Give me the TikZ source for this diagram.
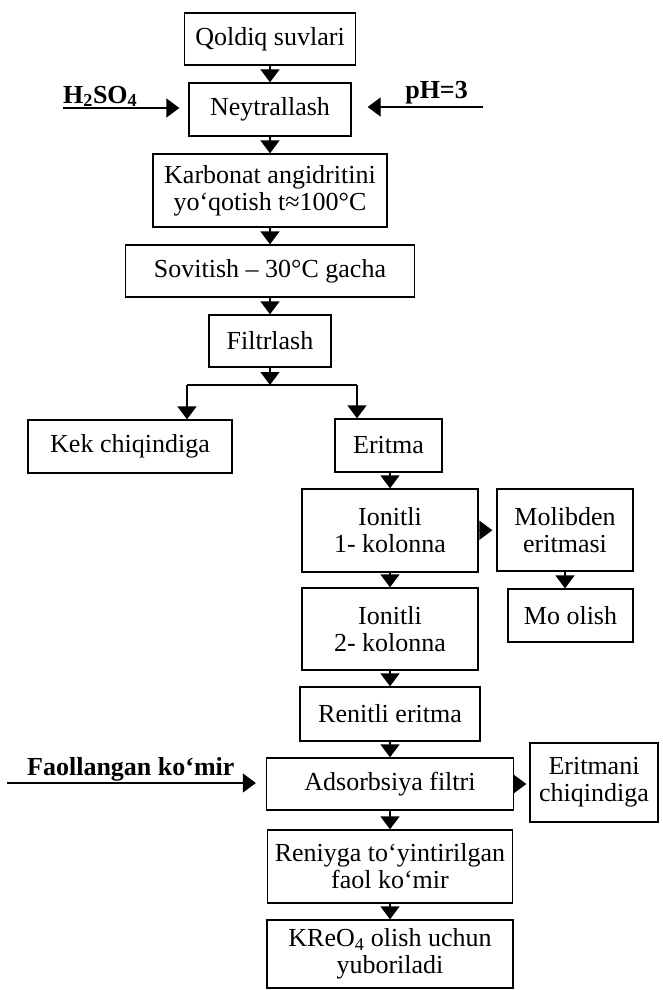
\documentclass[tikz,border=0pt]{standalone}
\usepackage{fontspec}
\setmainfont{Liberation Serif}
\usetikzlibrary{arrows.meta}

\begin{document}
\begin{tikzpicture}[
    x=1pt, y=-1pt,
    >={Triangle[length=13pt, width=19pt]},
    box/.style={rectangle, draw, line width=1.3pt, inner sep=2pt, align=center, font=\fontsize{26}{27}\selectfont},
    lbl/.style={inner sep=0pt, font=\fontsize{26}{27}\selectfont\bfseries},
    arr/.style={->, line width=1.3pt}
]
\useasboundingbox (0,0) rectangle (663,990);

% === Yuqori ustun ===
\node[box, minimum width=171pt, minimum height=52pt] (qold) at (270,39) {Qoldiq suvlari};
\node[box, minimum width=162pt, minimum height=53pt] (neyt) at (270,109.5) {Neytrallash};
\node[box, minimum width=234pt, minimum height=73pt] (karb) at (270,190.5) {Karbonat angidritini\\yo‘qotish t≈100°C};
\node[box, minimum width=289pt, minimum height=52pt] (sov) at (270,271) {Sovitish – 30°C gacha};
\node[box, minimum width=122pt, minimum height=52pt] (filtr) at (270,341) {Filtrlash};

% Asosiy oqim
\draw[arr] (qold) -- (neyt);
\draw[arr] (neyt) -- (karb);
\draw[arr] (karb) -- (sov);
\draw[arr] (sov) -- (filtr);

% === Reagentlar ===
\coordinate (h2in) at (63,108);
\coordinate (phin) at (483,107);
\node[lbl, anchor=base west] (h2so4) at (63,103) {H\textsubscript{2}SO\textsubscript{4}};
\node[lbl, anchor=base east] (ph) at (468,98) {pH=3};
\draw[arr, shorten >=9pt] (h2in) -- (h2in -| neyt.west);
\draw[arr, shorten >=16pt] (phin) -- (phin -| neyt.east);

% === Ajratish ===
\node[box, minimum width=204pt, minimum height=53pt] (kek) at (130,446.5) {Kek chiqindiga};
\node[box, minimum width=107pt, minimum height=53pt] (erit) at (388.5,445.5) {Eritma};

\coordinate (bl) at (187,385);
\coordinate (br) at (357,385);
\draw[arr] (filtr) -- (filtr |- bl);
\draw[line width=1.3pt] (bl) -- (br);
\draw[arr] (bl) -- (bl |- kek.north);
\draw[arr] (br) -- (br |- erit.north);

% === Ionitli kolonnalar ===
\node[box, minimum width=176pt, minimum height=83pt] (ion1) at (390,530.5) {Ionitli\\1- kolonna};
\node[box, minimum width=136pt, minimum height=82pt] (molib) at (565,530) {Molibden\\eritmasi};
\node[box, minimum width=125pt, minimum height=53pt] (mo) at (570.5,615.5) {Mo olish};
\node[box, minimum width=176pt, minimum height=82pt] (ion2) at (390,629) {Ionitli\\2- kolonna};
\node[box, minimum width=180pt, minimum height=54pt] (renit) at (390,714) {Renitli eritma};

\draw[arr] (erit.south -| ion1.north) -- (ion1);
\draw[arr, shorten >=4pt] (ion1) -- (molib);
\draw[arr] (molib.south) -- (molib.south |- mo.north);
\draw[arr] (ion1) -- (ion2);
\draw[arr] (ion2) -- (renit);

% === Adsorbsiya ===
\node[box, minimum width=247pt, minimum height=52pt] (adsor) at (390,784) {Adsorbsiya filtri};
\node[box, minimum width=128pt, minimum height=79pt] (eritm) at (594,782.5) {Eritmani\\chiqindiga};
\node[box, minimum width=245pt, minimum height=73pt] (reni) at (390,866.5) {Reniyga to‘yintirilgan\\faol ko‘mir};
\node[box, minimum width=246pt, minimum height=68pt] (kreo) at (390,954) {KReO\textsubscript{4} olish uchun\\yuboriladi};

\coordinate (faolin) at (7,783);
\node[lbl, anchor=base west] (faol) at (27,775) {Faollangan ko‘mir};
\draw[arr, shorten >=10pt] (faolin) -- (faolin -| adsor.west);

\draw[arr] (renit) -- (adsor);
\draw[arr, shorten >=3pt] (adsor.east) -- (adsor.east -| eritm.west);
\draw[arr] (adsor) -- (reni);
\draw[arr] (reni) -- (kreo);

\end{tikzpicture}
\end{document}
